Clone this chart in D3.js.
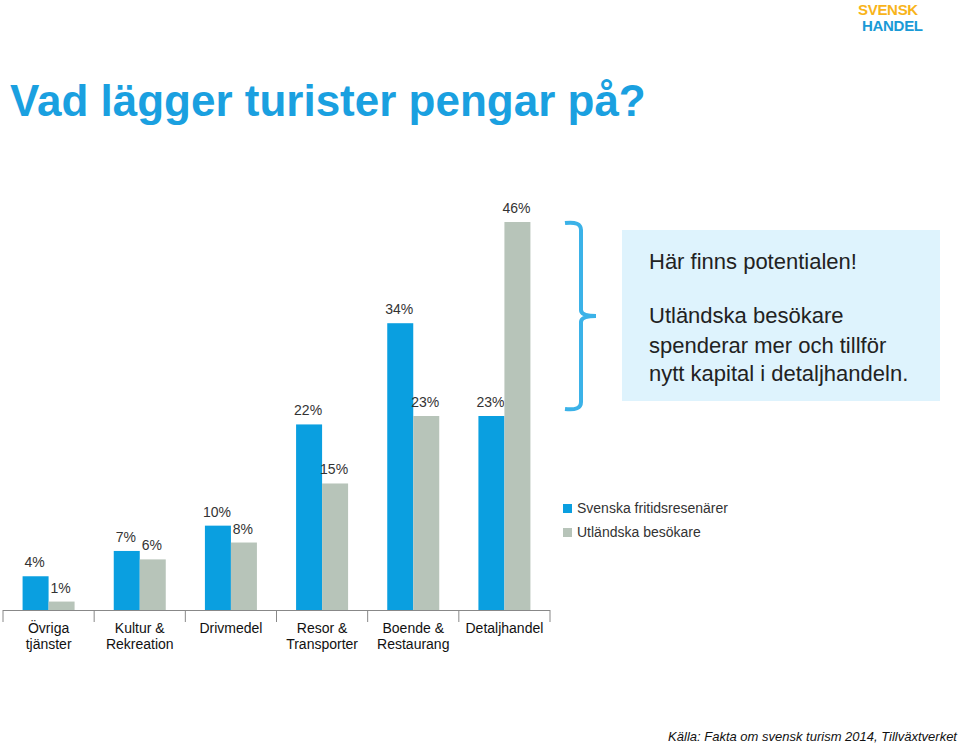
<!DOCTYPE html>
<html><head><meta charset="utf-8">
<script src="https://cdn.jsdelivr.net/npm/d3@7"></script>
<style>body{margin:0;background:#fff;font-family:Arial,"Liberation Sans",sans-serif}</style>
</head><body><div id="graphic"></div>
<script>
// Data
var categories = [['Övriga', 'tjänster'], ['Kultur &', 'Rekreation'], ['Drivmedel'], ['Resor &', 'Transporter'], ['Boende &', 'Restaurang'], ['Detaljhandel']];
var svenska = [4, 7, 10, 22, 34, 23];
var utlandska = [1, 6, 8, 15, 23, 46];
var seriesNames = ['Svenska fritidsresenärer', 'Utländska besökare'];
var colors = ['#0a9fe0', '#b7c4b9'];

var svg = d3.select('#graphic').append('svg').attr('width', 960).attr('height', 745);

// Title + logo
svg.append('text').attr('x', 10).attr('y', 116).attr('font-size', 44).attr('font-weight', 'bold')
  .attr('fill', '#1aa0e0').text('Vad lägger turister pengar på?');
svg.append('text').attr('x', 858).attr('y', 15).attr('font-size', 15).attr('font-weight', 'bold')
  .attr('fill', '#f8b41a').attr('letter-spacing', -0.3).text('SVENSK');
svg.append('text').attr('x', 862).attr('y', 31).attr('font-size', 15).attr('font-weight', 'bold')
  .attr('fill', '#1a9ad6').attr('letter-spacing', -0.3).text('HANDEL');

var x = d3.scaleBand().domain(d3.range(categories.length)).range([3, 550]);
var y = d3.scaleLinear().domain([0, 46]).range([610, 222]);
var bw = 26;

var g = svg.append('g');
var groups = g.selectAll('.cat').data(categories).enter().append('g')
  .attr('transform', function(d, i) { return 'translate(' + (x(i) + x.bandwidth() / 2) + ',0)'; });

[svenska, utlandska].forEach(function(vals, s) {
  groups.append('rect')
    .attr('x', s === 0 ? -bw : 0).attr('width', bw)
    .attr('y', function(d, i) { return y(vals[i]); })
    .attr('height', function(d, i) { return 610 - y(vals[i]); })
    .attr('fill', colors[s]);
  groups.append('text')
    .attr('x', s === 0 ? -bw / 2 - 1 : bw / 2 - 1)
    .attr('y', function(d, i) { return y(vals[i]) - 9; })
    .attr('text-anchor', 'middle').attr('font-size', 14).attr('fill', '#333')
    .text(function(d, i) { return vals[i] + '%'; });
});

// Axis
svg.append('line').attr('x1', 3).attr('x2', 550).attr('y1', 610.5).attr('y2', 610.5).attr('stroke', '#888');
d3.range(categories.length + 1).forEach(function(i) {
  var xx = i < categories.length ? x(i) : 550;
  svg.append('line').attr('x1', xx).attr('x2', xx).attr('y1', 610).attr('y2', 622).attr('stroke', '#888');
});
groups.each(function(d) {
  var t = d3.select(this).append('text').attr('text-anchor', 'middle').attr('font-size', 14).attr('fill', '#111');
  d.forEach(function(line, j) { t.append('tspan').attr('x', 0).attr('y', 633 + j * 16).text(line); });
});

// Legend
seriesNames.forEach(function(n, i) {
  svg.append('rect').attr('x', 563).attr('y', 504 + i * 24).attr('width', 9).attr('height', 9).attr('fill', colors[i]);
  svg.append('text').attr('x', 577).attr('y', 513 + i * 24).attr('font-size', 14).attr('fill', '#333').text(n);
});

// Bracket + callout
svg.append('path').attr('d', 'M565,223 Q581,221 581,230 L581,310 Q581,316 596,316 Q581,316 581,322 L581,402 Q581,411 565,409')
  .attr('fill', 'none').attr('stroke', '#3bb2e8').attr('stroke-width', 4);
svg.append('rect').attr('x', 622).attr('y', 230).attr('width', 318).attr('height', 171).attr('fill', '#def3fd');
var lines = ['Här finns potentialen!', '', 'Utländska besökare', 'spenderar mer och tillför', 'nytt kapital i detaljhandeln.'];
var yy = [269, 0, 323, 353, 381];
lines.forEach(function(l, i) {
  if (l) svg.append('text').attr('x', 649).attr('y', yy[i]).attr('font-size', 22).attr('fill', '#222').text(l);
});

svg.append('text').attr('x', 957).attr('y', 741).attr('text-anchor', 'end').attr('font-size', 13)
  .attr('font-style', 'italic').attr('fill', '#111').text('Källa: Fakta om svensk turism 2014, Tillväxtverket');
</script></body></html>
